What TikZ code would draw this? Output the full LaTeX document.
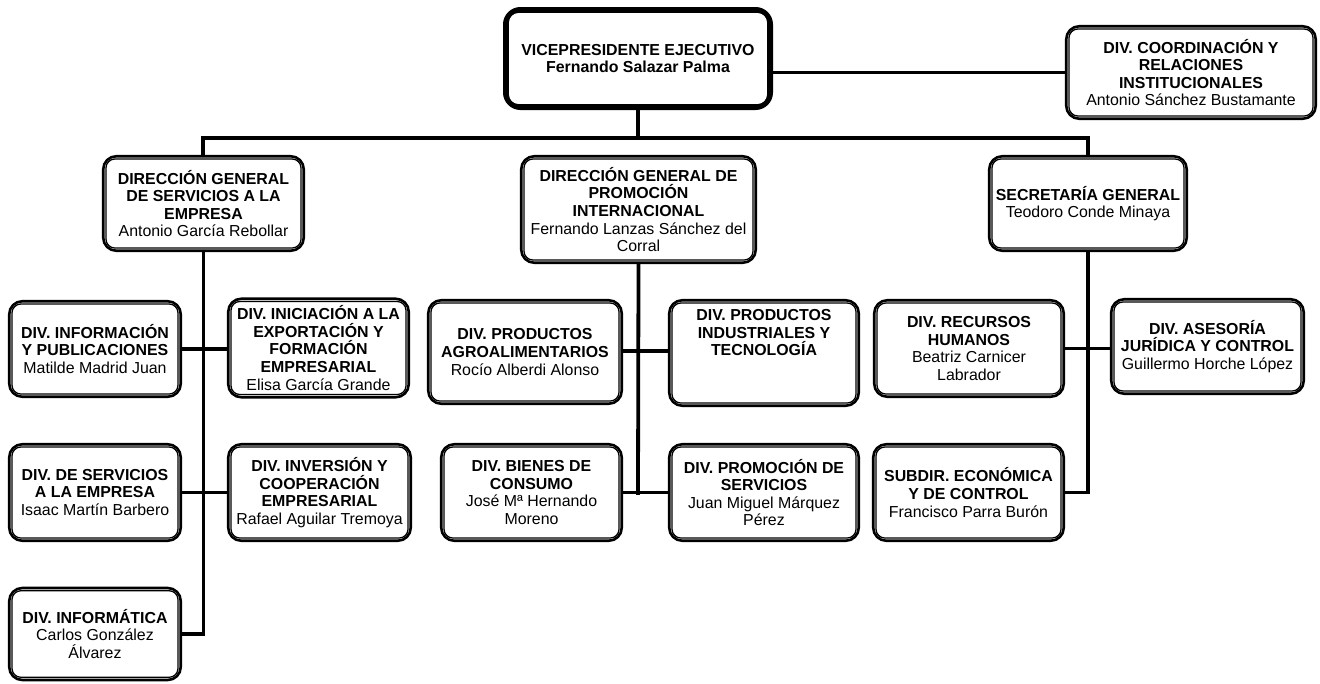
\documentclass[tikz,border=0pt]{standalone}
\usepackage{fontspec}
\setmainfont{Liberation Sans}
\begin{document}
\begin{tikzpicture}[x=1pt,y=-1pt,
  box/.style={draw=black, line width=2.6pt, rounded corners=13pt, fill=white,
    align=center, inner sep=0pt, font=\fontsize{15.9}{17.6}\selectfont},
  topbox/.style={box, line width=5pt, rounded corners=15pt},
  innerline/.style={draw=black, line width=1.3pt, rounded corners=9pt},
  link/.style={draw=black, line width=3.8pt, line join=miter},
  thinlink/.style={draw=black, line width=3.4pt}
]
\useasboundingbox (0,0) rectangle (1320,683);

% nodes
\node[topbox, minimum width=265pt, minimum height=98pt] (vp) at (638,58.5)
  {\textbf{VICEPRESIDENTE EJECUTIVO}\\\textbf{Fernando Salazar Palma}};
\node[box, minimum width=249.5pt, minimum height=92.5pt] (coord) at (1191,72.5)
  {\textbf{DIV. COORDINACIÓN Y}\\\textbf{RELACIONES}\\\textbf{INSTITUCIONALES}\\Antonio Sánchez Bustamante};
\node[box, minimum width=200.5pt, minimum height=94.5pt] (dgs) at (203.5,203.5)
  {\textbf{DIRECCIÓN GENERAL}\\\textbf{DE SERVICIOS A LA}\\\textbf{EMPRESA}\\Antonio García Rebollar};
\node[box, minimum width=234.5pt, minimum height=106.5pt] (dgp) at (638.5,209.5)
  {\textbf{DIRECCIÓN GENERAL DE}\\\textbf{PROMOCIÓN}\\\textbf{INTERNACIONAL}\\Fernando Lanzas Sánchez del\\Corral};
\node[box, minimum width=197.5pt, minimum height=94.5pt] (sg) at (1088,203.5)
  {\textbf{SECRETARÍA GENERAL}\\Teodoro Conde Minaya};

\node[box, minimum width=171.5pt, minimum height=95.5pt] (info) at (95,349)
  {\textbf{DIV. INFORMACIÓN}\\\textbf{Y PUBLICACIONES}\\Matilde Madrid Juan};
\node[box, minimum width=180.5pt, minimum height=98.5pt] (ini) at (318.5,348)
  {\textbf{DIV. INICIACIÓN A LA}\\\textbf{EXPORTACIÓN Y}\\\textbf{FORMACIÓN}\\\textbf{EMPRESARIAL}\\Elisa García Grande};
\node[box, minimum width=193.5pt, minimum height=103.5pt] (agro) at (525,352)
  {\textbf{DIV. PRODUCTOS}\\\textbf{AGROALIMENTARIOS}\\Rocío Alberdi Alonso};
\node[box, minimum width=189.5pt, minimum height=105.5pt] (pind) at (764,353)
  {\textbf{DIV. PRODUCTOS}\\\textbf{INDUSTRIALES Y}\\\textbf{TECNOLOGÍA}\\\strut\\\strut};
\node[box, minimum width=189.5pt, minimum height=96.5pt] (rrhh) at (969,348.5)
  {\textbf{DIV. RECURSOS}\\\textbf{HUMANOS}\\Beatriz Carnicer\\Labrador};
\node[box, minimum width=192.5pt, minimum height=94.5pt] (ases) at (1207.5,346.5)
  {\textbf{DIV. ASESORÍA}\\\textbf{JURÍDICA Y CONTROL}\\Guillermo Horche López};

\node[box, minimum width=171.5pt, minimum height=96.5pt] (serv) at (95,492.5)
  {\textbf{DIV. DE SERVICIOS}\\\textbf{A LA EMPRESA}\\Isaac Martín Barbero};
\node[box, minimum width=182.5pt, minimum height=96.5pt] (inv) at (319.5,492.5)
  {\textbf{DIV. INVERSIÓN Y}\\\textbf{COOPERACIÓN}\\\textbf{EMPRESARIAL}\\Rafael Aguilar Tremoya};
\node[box, minimum width=180.5pt, minimum height=96.5pt] (bien) at (531.5,492.5)
  {\textbf{DIV. BIENES DE}\\\textbf{CONSUMO}\\José Mª Hernando\\Moreno};
\node[box, minimum width=189.5pt, minimum height=96.5pt] (pser) at (764,492.5)
  {\textbf{DIV. PROMOCIÓN DE}\\\textbf{SERVICIOS}\\Juan Miguel Márquez\\Pérez};
\node[box, minimum width=190.5pt, minimum height=96.5pt] (sub) at (968.5,492.5)
  {\textbf{SUBDIR. ECONÓMICA}\\\textbf{Y DE CONTROL}\\Francisco Parra Burón};

\node[box, minimum width=171.5pt, minimum height=92pt] (infor) at (95,634)
  {\textbf{DIV. INFORMÁTICA}\\Carlos González\\Álvarez};

% inner lines of double borders
\foreach \n in {coord,dgs,dgp,sg,info,ini,agro,pind,rrhh,ases,serv,inv,bien,pser,sub,infor}
  \draw[innerline] ([xshift=4pt,yshift=-4pt]\n.north west) rectangle ([xshift=-4pt,yshift=4pt]\n.south east);
\draw[innerline, rounded corners=10pt] ([xshift=5.3pt,yshift=-5.3pt]vp.north west) rectangle ([xshift=-5.3pt,yshift=5.3pt]vp.south east);

% connectors
\coordinate (busL) at (203,138);
\coordinate (busM) at (638,138);
\coordinate (busR) at (1088,138);
\draw[link] (vp.south) -- (busM);
\draw[link] ([xshift=-1.9pt]busL) -- ([xshift=1.9pt]busR);
\draw[link] (busL) -- (busL |- dgs.north);
\draw[link] (busR) -- (busR |- sg.north);
\draw[thinlink] (vp.east |- coord.west) -- (coord.west);

\draw[link] (dgs.south) |- (infor.east);
\draw[link] (info.east) -- (info.east -| ini.west);
\draw[link] (serv.east) -- (inv.west);

\coordinate (midEnd) at (638,493);
\draw[link] (dgp.south) -- ([yshift=-1.9pt]midEnd);
\draw[link] (agro.east |- 0,351) -- (pind.west |- 0,351);
\draw[link] (bien.east) -- (pser.west);

\draw[link] (sg.south) |- (sub.east);
\draw[link] (rrhh.east) -- (rrhh.east -| ases.west);
\end{tikzpicture}
\end{document}
